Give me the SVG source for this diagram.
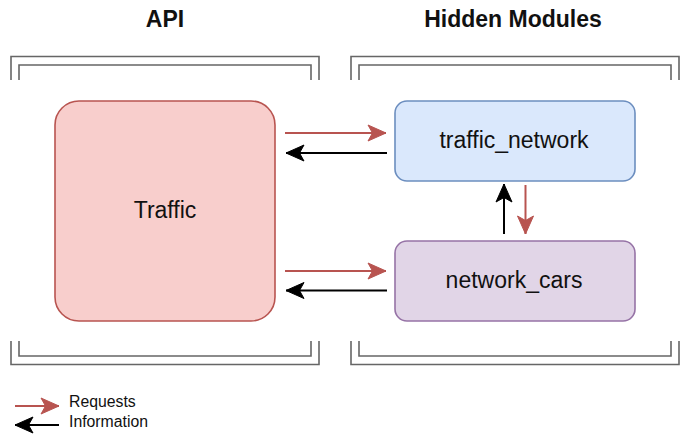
<svg xmlns="http://www.w3.org/2000/svg" width="680" height="442" viewBox="0 0 680 442">
<style>
.br{fill:none;stroke:#666666;stroke-width:1.6}
.t{font-family:"Liberation Sans",Arial,sans-serif;fill:#111111}
.title{font-size:23px;font-weight:bold;text-anchor:middle}
.lbl{font-size:23px;text-anchor:middle}
.leg{font-size:15.8px}
.req{fill:none;stroke:#b85450;stroke-width:2}
.inf{fill:none;stroke:#000000;stroke-width:2}
</style>
<defs>
<marker id="mr" viewBox="-20 -9 21 18" refX="0" refY="0" markerWidth="21" markerHeight="18" orient="auto" markerUnits="userSpaceOnUse">
<path d="M0,0 L-18,-8 L-13.5,0 L-18,8 Z" fill="#b85450" stroke="#b85450" stroke-width="1"/>
</marker>
<marker id="mb" viewBox="-20 -9 21 18" refX="0" refY="0" markerWidth="21" markerHeight="18" orient="auto" markerUnits="userSpaceOnUse">
<path d="M0,0 L-18,-8 L-13.5,0 L-18,8 Z" fill="#000000" stroke="#000000" stroke-width="1"/>
</marker>
</defs>
<rect width="680" height="442" fill="#ffffff"/>
<g id="titles">
<text class="t title" x="165" y="27">API</text>
<text class="t title" x="513" y="27">Hidden Modules</text>
</g>
<g id="brackets">
<path class="br" d="M11,80 V56.5 H319 V80"/>
<path class="br" d="M19,80 V65 H311 V80"/>
<path class="br" d="M351,80 V56.5 H679 V80"/>
<path class="br" d="M359,80 V65 H671 V80"/>
<path class="br" d="M11,341 V364.5 H319 V341"/>
<path class="br" d="M19,341 V356 H311 V341"/>
<path class="br" d="M351,341 V364.5 H679 V341"/>
<path class="br" d="M359,341 V356 H671 V341"/>
</g>
<g id="traffic">
<rect x="55" y="101" width="220" height="220" rx="24" ry="24" fill="#f8cecc" stroke="#b85450" stroke-width="1.6"/>
<text class="t lbl" x="165" y="218">Traffic</text>
</g>
<g id="traffic_network">
<rect x="395" y="101" width="240" height="80" rx="12" ry="12" fill="#dae8fc" stroke="#6c8ebf" stroke-width="1.6"/>
<text class="t lbl" x="514" y="148">traffic_network</text>
</g>
<g id="network_cars">
<rect x="395" y="241" width="240" height="80" rx="12" ry="12" fill="#e1d5e7" stroke="#9673a6" stroke-width="1.6"/>
<text class="t lbl" x="514" y="288">network_cars</text>
</g>
<g id="connectors">
<path class="req" d="M285,133 H386" marker-end="url(#mr)"/>
<path class="inf" d="M387,153 H286" marker-end="url(#mb)"/>
<path class="req" d="M285,271 H386" marker-end="url(#mr)"/>
<path class="inf" d="M387,290.5 H286" marker-end="url(#mb)"/>
<path class="inf" d="M504,234 V184" marker-end="url(#mb)"/>
<path class="req" d="M525.5,185 V234" marker-end="url(#mr)"/>
</g>
<g id="legend">
<path class="req" d="M15,406 H59" marker-end="url(#mr)"/>
<path class="inf" d="M59,425 H15" marker-end="url(#mb)"/>
<text class="t leg" x="69" y="407">Requests</text>
<text class="t leg" x="69" y="427">Information</text>
</g>
</svg>
